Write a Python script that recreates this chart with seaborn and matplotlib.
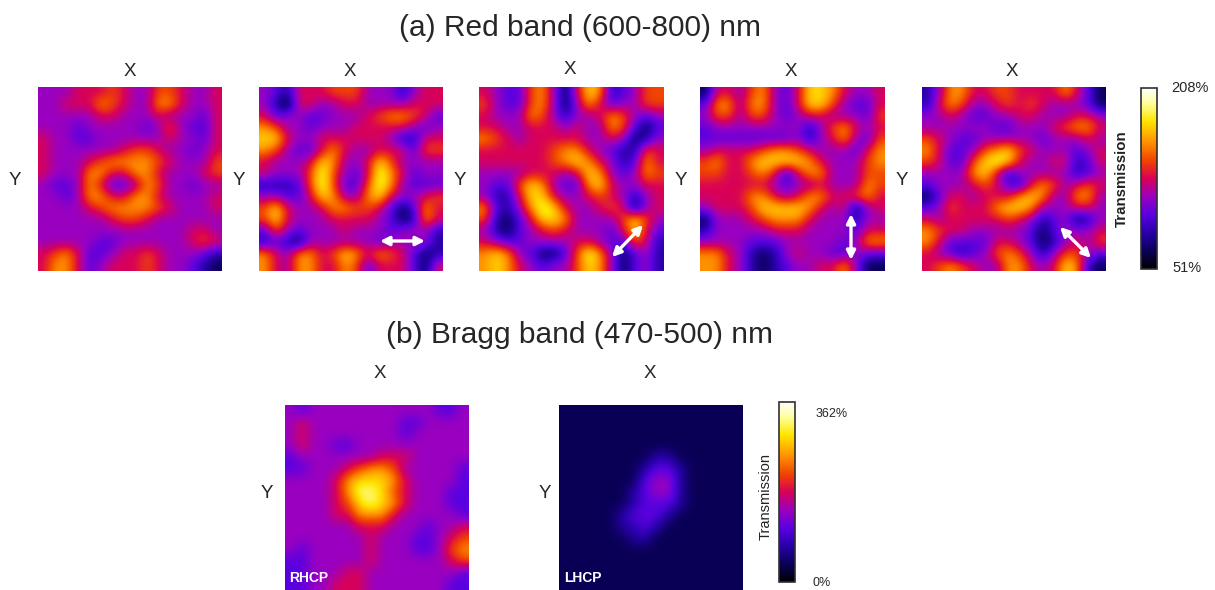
import numpy as np
import pandas as pd
import matplotlib
matplotlib.use("Agg")
import matplotlib.pyplot as plt
from matplotlib.colors import LinearSegmentedColormap
from matplotlib.patches import FancyArrowPatch
import seaborn as sns

RED_0 = ["4445556544665445","4455576544775445","4444455444544435","4443444443464335",
         "5443344444454435","5444444566544345","5444567777654446","5444775577544456",
         "4334753347644344","4434775577544445","4444567777654445","4444445665444444",
         "4444444444444554","4444433444444565","5675334556544432","5775345556544321"]
RED_H = ["4325556664442455","4205544554444555","5344334445677653","7644344455555434",
         "8854455555542255","7643357544555366","5444587445864444","5444696435975344",
         "2223696336974333","4433587447854456","6854457766531375","6854445555431275",
         "3643444544434442","2321444444344442","7547756875765312","7547755763555315"]
RED_D = ["5433674158723466","6433674147534466","5444764244576434","5544555454476313",
         "7654555554454124","5555556775432265","5555556787542375","4444555458743476",
         "4336874337854455","4225885445654245","7324798544565145","6213588744446864",
         "4213456544435853","5433444455433652","7874311369741342","7875434468741342"]
RED_V = ["1554674358875445","3774774358864335","4664664345544436","3444444442467545",
         "3333333342457436","4555567765444357","6755788887544467","6655675257744466",
         "5555554344544476","5555775457755675","4555688887545145","1444567775444244",
         "2444445554444355","4444333444443477","7754212454433433","7754212344557411"]
RED_A = ["2477556655557531","2576445656544431","4454334455444554","4444443344456775",
         "6543344444344454","7533467865444345","6533689854455235","4444785244444234",
         "3444565325764565","1355455578744774","3465557887444554","5455555654234124",
         "7655444443134445","7533335543124546","5432346764246643","5676544775458721"]
RHCP = ["4344444444444334","4544444444334444","4544444444344444","4544334444444444",
        "3444444455544444","3344456776444443","4444578887544443","4444579986544433",
        "4444568987544433","4444557775444443","4444445554443445","4444444544433456",
        "4344444544433467","3344444544444456","3344455444444443","3344555444444433"]
LHCP = ["1111111111111111","1111111111111111","1111111111111111","1111111111111111",
        "1111111122111111","1111111233211111","1111111344211111","1111112344211111",
        "1111112333211111","1111123332111111","1111122321111111","1111112211111111",
        "1111111111111111","1111111111111111","1111111111111111","1111111111111111"]

RED_TITLE = "(a) Red band (600-800) nm"
BRAGG_TITLE = "(b) Bragg band (470-500) nm"
RED_RANGE = ["208%", "51%"]
BRAGG_RANGE = ["362%", "0%"]

W, H = 1215, 590
sns.set_theme(style="white")
plt.rcParams["font.family"] = ["Liberation Sans", "DejaVu Sans"]

cmap = LinearSegmentedColormap.from_list("fireblue", [
    (0.00, "#000000"), (0.10, "#0a0058"), (0.20, "#2800a8"), (0.30, "#5a00e0"),
    (0.40, "#9a00c0"), (0.50, "#d80058"), (0.60, "#f04400"), (0.70, "#ff9000"),
    (0.82, "#ffe600"), (0.92, "#ffffa0"), (1.00, "#ffffff")])

fig = plt.figure(figsize=(W / 100, H / 100), dpi=100)


def px_axes(x0, y0, x1, y1):
    return fig.add_axes([x0 / W, 1 - y1 / H, (x1 - x0) / W, (y1 - y0) / H])


def ftext(x, y, s, **kw):
    kw.setdefault("ha", "center")
    kw.setdefault("va", "center")
    kw.setdefault("color", "#262626")
    fig.text(x / W, 1 - y / H, s, **kw)


def panel(rows, box, xlab, ylab, cbar_box=None):
    grid = np.array([[int(c) for c in r] for r in rows], dtype=float)
    ax = px_axes(*box)
    kw = dict(cbar=False)
    if cbar_box is not None:
        cax = px_axes(*cbar_box)
        kw = dict(cbar=True, cbar_ax=cax, cbar_kws={"ticks": []})
    sns.heatmap(pd.DataFrame(grid), ax=ax, cmap=cmap, vmin=0, vmax=10,
                xticklabels=False, yticklabels=False, **kw)
    ax.imshow(grid, cmap=cmap, vmin=0, vmax=10, interpolation="bicubic",
              extent=(0, grid.shape[1], grid.shape[0], 0), aspect="auto", zorder=3)
    ax.set_xlim(0, grid.shape[1])
    ax.set_ylim(grid.shape[0], 0)
    if cbar_box is not None:
        cb = ax.collections[0].colorbar
        cb.outline.set_visible(True)
        cb.outline.set_edgecolor("#303030")
        cb.outline.set_linewidth(1.2)
    ftext(xlab[0], xlab[1], "X", fontsize=13.5)
    ftext(ylab[0], ylab[1], "Y", fontsize=13.5)
    return ax


top = (87, 271)
panel(RED_0, (38, top[0], 222, top[1]), (130, 72), (15, 180))
panel(RED_H, (259, top[0], 443, top[1]), (350, 72), (239, 180))
panel(RED_D, (479, top[0], 663, top[1]), (570, 70), (460, 180))
panel(RED_V, (700, top[0], 884, top[1]), (791, 72), (681, 180))
panel(RED_A, (922, top[0], 1106, top[1]), (1012, 72), (902, 180),
      cbar_box=(1141, 88, 1157, 269))
panel(RHCP, (285, 405, 469, 590), (380, 374), (267, 494))
panel(LHCP, (559, 405, 743, 590), (650, 374), (545, 494),
      cbar_box=(779, 402, 795, 582))

for a, b in [((380, 241), (425, 241)), ((612, 257), (643, 225)),
             ((851, 214), (851, 260)), ((1060, 227), (1091, 258))]:
    fig.add_artist(FancyArrowPatch(
        (a[0] / W, 1 - a[1] / H), (b[0] / W, 1 - b[1] / H),
        transform=fig.transFigure, arrowstyle="<|-|>", mutation_scale=13,
        color="white", lw=2.4, shrinkA=0, shrinkB=0, zorder=10))

ftext(580, 28, RED_TITLE, fontsize=21.5)
ftext(580, 335, BRAGG_TITLE, fontsize=21.5)
ftext(1190, 88, RED_RANGE[0], fontsize=10.5)
ftext(1187, 268, RED_RANGE[1], fontsize=10.5)
ftext(1122, 179, "Transmission", fontsize=10.8, fontweight="bold", rotation=90, color="#222222")
ftext(832, 414, BRAGG_RANGE[0], fontsize=9)
ftext(822, 583, BRAGG_RANGE[1], fontsize=9)
ftext(766, 497, "Transmission", fontsize=10.5, rotation=90, color="#222222")
ftext(289, 578, "RHCP", ha="left", fontsize=10, fontweight="bold", color="white", zorder=10)
ftext(564, 578, "LHCP", ha="left", fontsize=10, fontweight="bold", color="white", zorder=10)

fig.savefig("out.png", dpi=100)
